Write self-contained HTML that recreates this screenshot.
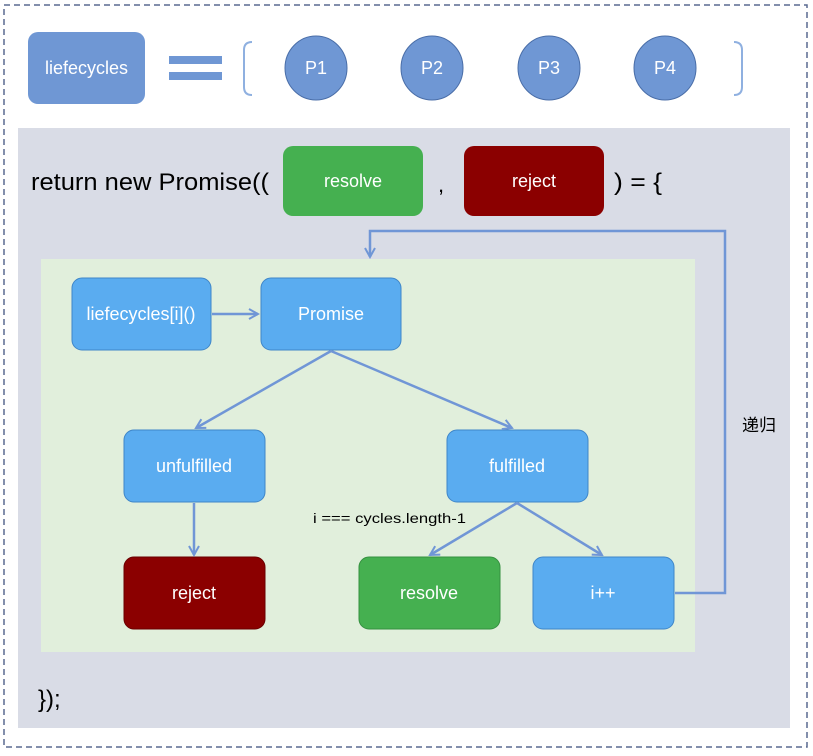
<!DOCTYPE html>
<html><head><meta charset="utf-8"><style>body{margin:0;background:#fff}svg{display:block}text{font-family:"Liberation Sans","Noto Sans CJK SC",sans-serif}</style></head><body>
<svg width="813" height="756" viewBox="0 0 813 756">
<defs><marker id="a" markerWidth="12" markerHeight="12" refX="10" refY="6" orient="auto" markerUnits="userSpaceOnUse"><path d="M1,1 L10,6 L1,11" fill="none" stroke="#7096d6" stroke-width="2"/></marker></defs>
<rect x="4" y="5" width="803" height="742" fill="none" stroke="#5a6a90" stroke-width="1.5" stroke-dasharray="6,4"/>
<rect x="28" y="32" width="117" height="72" rx="10" fill="#6f97d4"/>
<text x="86.5" y="74" fill="#fff" font-size="18" text-anchor="middle">liefecycles</text>
<rect x="169" y="56" width="53" height="8" fill="#6f97d4"/><rect x="169" y="72" width="53" height="8" fill="#6f97d4"/>
<path d="M252,42 Q244,42 244,50 L244,87 Q244,95 252,95" fill="none" stroke="#8fb0e0" stroke-width="2"/>
<path d="M734,42 Q742,42 742,50 L742,87 Q742,95 734,95" fill="none" stroke="#8fb0e0" stroke-width="2"/>
<g fill="#6f97d4" stroke="#4a6ea8" stroke-width="1">
<ellipse cx="316" cy="68" rx="31" ry="32"/><ellipse cx="432" cy="68" rx="31" ry="32"/><ellipse cx="549" cy="68" rx="31" ry="32"/><ellipse cx="665" cy="68" rx="31" ry="32"/></g>
<g fill="#fff" font-size="18" text-anchor="middle"><text x="316" y="74">P1</text><text x="432" y="74">P2</text><text x="549" y="74">P3</text><text x="665" y="74">P4</text></g>
<rect x="18" y="128" width="772" height="600" fill="#d9dce6"/>
<text x="31" y="190" font-size="24" fill="#000" textLength="238" lengthAdjust="spacingAndGlyphs">return new Promise((</text>
<rect x="283" y="146" width="140" height="70" rx="10" fill="#45b050"/><text x="353" y="187" fill="#fff" font-size="18" text-anchor="middle">resolve</text>
<text x="438" y="192" font-size="22">,</text>
<rect x="464" y="146" width="140" height="70" rx="10" fill="#8b0000"/><text x="534" y="187" fill="#fff" font-size="18" text-anchor="middle">reject</text>
<text x="614" y="190" font-size="24" textLength="48" lengthAdjust="spacingAndGlyphs">) = {</text>
<rect x="41" y="259" width="654" height="393" fill="#e1efdc"/>
<g stroke="#3f86c8" stroke-width="1" fill="#5aacf0">
<rect x="72" y="278" width="139" height="72" rx="10"/><rect x="261" y="278" width="140" height="72" rx="10"/>
<rect x="124" y="430" width="141" height="72" rx="10"/><rect x="447" y="430" width="141" height="72" rx="10"/>
<rect x="533" y="557" width="141" height="72" rx="10"/></g>
<rect x="124" y="557" width="141" height="72" rx="10" fill="#8b0000" stroke="#6a0000"/>
<rect x="359" y="557" width="141" height="72" rx="10" fill="#45b050" stroke="#359040"/>
<g fill="#fff" font-size="18" text-anchor="middle">
<text x="141" y="320">liefecycles[i]()</text><text x="331" y="320">Promise</text>
<text x="194" y="472">unfulfilled</text><text x="517" y="472">fulfilled</text>
<text x="194" y="599">reject</text><text x="429" y="599">resolve</text><text x="603" y="599">i++</text></g>
<g stroke="#7096d6" stroke-width="2.5" fill="none" marker-end="url(#a)">
<line x1="212" y1="314" x2="258" y2="314"/>
<line x1="331" y1="351" x2="196" y2="428"/>
<line x1="331" y1="351" x2="512" y2="428"/>
<line x1="194" y1="503" x2="194" y2="555"/>
<line x1="517" y1="503" x2="430" y2="555"/>
<line x1="517" y1="503" x2="602" y2="555"/>
<polyline points="675,593 725,593 725,231 370,231 370,257"/>
</g>
<text x="313" y="523" font-size="14" fill="#000" textLength="153" lengthAdjust="spacingAndGlyphs">i === cycles.length-1</text>
<text x="742" y="431" font-size="17" fill="#000">递归</text>
<text x="38" y="707" font-size="24" fill="#000">});</text>
</svg>
</body></html>
